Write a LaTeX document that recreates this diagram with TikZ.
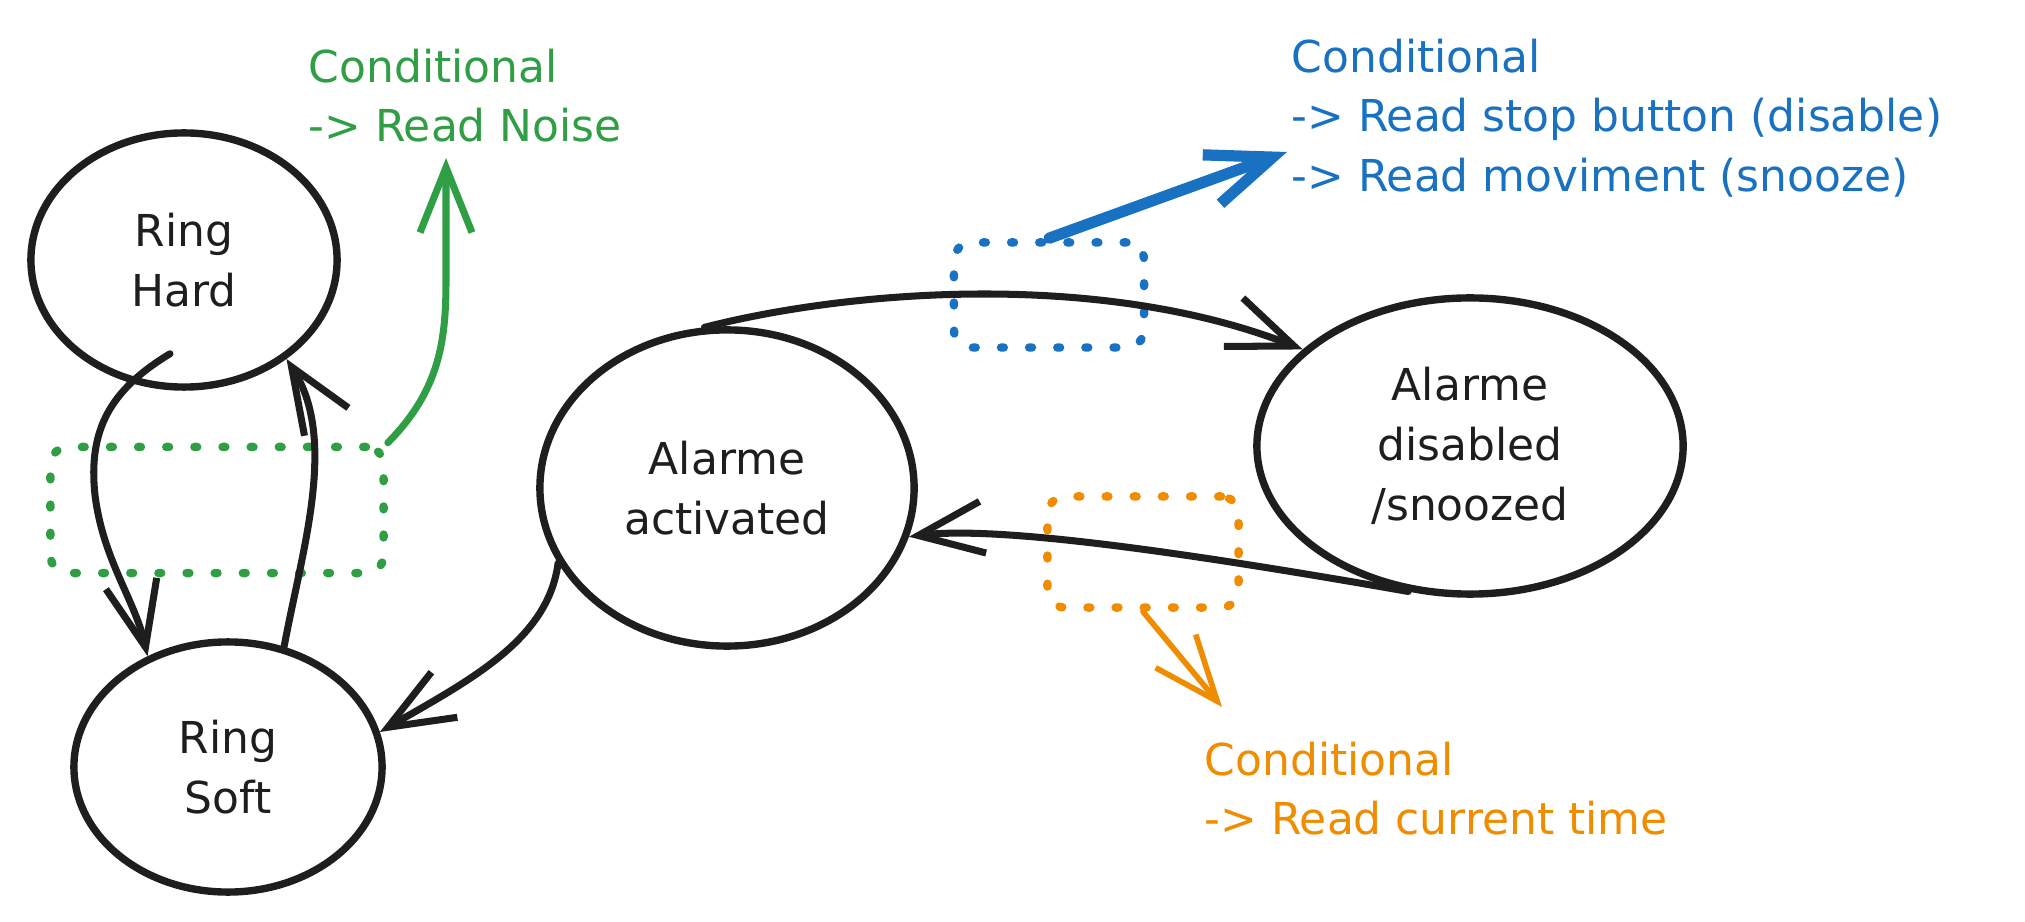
\documentclass[tikz,border=0pt]{standalone}
\usepackage{fontspec}
\setmainfont{DejaVu Sans}
\usetikzlibrary{arrows.meta}
\usetikzlibrary{shapes.geometric}
\definecolor{mblack}{HTML}{1E1E1E}
\definecolor{mgreen}{HTML}{2F9E44}
\definecolor{mblue}{HTML}{1971C2}
\definecolor{morange}{HTML}{F08C00}
\tikzset{state/.style = {ellipse, draw = mblack, line width = 2.1pt,
                         inner sep = 0pt, align = center, text = mblack},
         trans/.style = {draw = mblack, line width = 2pt, line cap = round,
                         -{Straight Barb[length = 6.5mm, width = 5.2mm]}},
         hint/.style = {line cap = round,
                        -{Straight Barb[length = 6.5mm, width = 5.2mm]}},
         condbox/.style = {draw, rectangle, rounded corners = 5pt, line width = 2.4pt,
                           line cap = round, dash pattern = on 0.8pt off 7.2pt,
                           inner sep = 0pt},
         note/.style = {anchor = north west, align = left, inner sep = 0pt}}

\begin{document}
\begin{tikzpicture}[x = 0.01cm, y = -0.01cm, font = \fontsize{12.5}{17}\selectfont]
    \useasboundingbox (0, 0) rectangle (2025, 922);

    \node [state, minimum width = 3.06cm, minimum height = 2.54cm] (hard) at (184, 260) {Ring\\Hard};
    \node [state, minimum width = 3.08cm, minimum height = 2.50cm] (soft) at (228, 767) {Ring\\Soft};
    \node [state, minimum width = 3.74cm, minimum height = 3.16cm] (act) at (727, 488) {Alarme\\activated};
    \node [state, minimum width = 4.26cm, minimum height = 2.96cm] (dis) at (1470, 446) {Alarme\\disabled\\/snoozed};

    \node [condbox, mgreen, minimum width = 3.33cm, minimum height = 1.26cm] (gbox) at (217, 510) {};
    \node [condbox, mblue, minimum width = 1.90cm, minimum height = 1.05cm] (bbox) at (1049, 295) {};
    \node [condbox, morange, minimum width = 1.91cm, minimum height = 1.11cm] (obox) at (1143, 552) {};

    \node [note, mgreen] (gnote) at (308, 48) {Conditional\\-> Read Noise};
    \node [note, mblue] (bnote) at (1291, 38) {Conditional\\-> Read stop button (disable)\\-> Read moviment (snooze)};
    \node [note, morange] (onote) at (1204, 741) {Conditional\\-> Read current time};

    \coordinate (gtip) at (446, 158);
    \coordinate (btip) at (1287, 152);
    \coordinate (otip) at (1222, 707);

    \draw [trans] ([shift = {(-14, -37)}]hard.south) .. controls (110, 390) and (88, 430) .. (95, 495)
        .. controls (103, 560) and (135, 600) .. (soft.126);
    \draw [trans] (soft.65) .. controls (302, 550) and (338, 440) .. (hard.-44);
    \draw [trans] (act.204) .. controls (548, 640) and (470, 680) .. (soft.13);
    \draw [trans] (act.98) .. controls (850, 290) and (1100, 270) .. (dis.150);
    \draw [trans] (dis.247) .. controls (1200, 555) and (1000, 525) .. (act.-15);

    \draw [hint, mgreen, line width = 2pt] (gbox.north east) .. controls (440, 390) and (446, 340) .. (446, 280) -- (gtip);
    \draw [hint, mblue, line width = 3.2pt] (bbox.north) -- (btip);
    \draw [hint, morange, line width = 1.6pt] (obox.south) -- (otip);
\end{tikzpicture}
\end{document}
